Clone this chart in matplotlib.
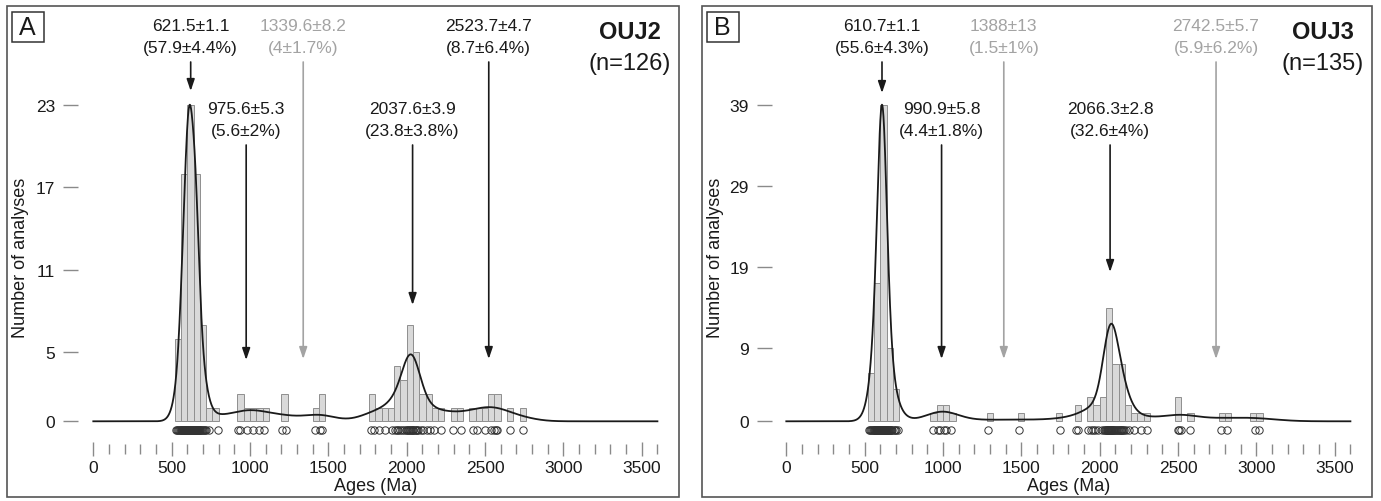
import numpy as np
import matplotlib
matplotlib.use('Agg')
import matplotlib.pyplot as plt
from matplotlib.patches import Rectangle
from matplotlib.ticker import FixedLocator
from matplotlib.transforms import blended_transform_factory

plt.rcParams['font.family'] = ['Liberation Sans', 'DejaVu Sans']

W, H = 1381, 502
BIN = 40          # histogram bin width (Ma)

OUJ2_AGES = [
    527, 534, 541, 546, 552, 557,
    561, 564, 566, 569, 571, 574, 576, 578, 581, 583, 585, 587, 590, 592, 594, 595, 597, 599,
    601, 602, 604, 606, 607, 609, 611, 612, 614, 616, 617, 619, 620, 622, 624, 625, 627, 629,
    631, 633, 635, 637, 639,
    641, 643, 645, 647, 648, 650, 652, 654, 656, 658, 660, 662, 664, 667, 670, 672, 675, 678,
    683, 688, 693, 699, 705, 711, 717, 741, 795,
    923, 936, 978, 1021, 1055, 1088,
    1206, 1227, 1415, 1449, 1458,
    1772, 1791, 1823, 1861, 1904, 1927, 1938, 1947, 1956, 1967, 1980, 1993,
    2004, 2011, 2017, 2023, 2028, 2033, 2038, 2043, 2050, 2057, 2064, 2073,
    2089, 2106, 2127, 2148, 2176, 2219,
    2293, 2348, 2425, 2446, 2501, 2538, 2554, 2567, 2579, 2659, 2744,
]
OUJ2_PEAKS = [621.5, 975.6, 1339.6, 2037.6, 2523.7]
OUJ2_PEAK_TXT = ['621.5±1.1', '975.6±5.3', '1339.6±8.2', '2037.6±3.9', '2523.7±4.7']
OUJ2_PROP_TXT = ['(57.9±4.4%)', '(5.6±2%)', '(4±1.7%)', '(23.8±3.8%)', '(8.7±6.4%)']
OUJ2_GREY = [False, False, True, False, False]

# --- OUJ3 ---
OUJ3_AGES = [
    526, 535, 542, 548, 553, 558,
    562, 565, 568, 571, 573, 576, 579, 581, 583, 586, 588, 590, 592, 594, 596, 598, 599,
    600, 601, 602, 603, 604, 604.5, 605, 606, 607, 607.5, 608, 609, 610, 610.5, 611,
    612, 612.5, 613, 614, 615, 615.5, 616, 617, 618, 619, 620, 621, 622, 623, 624,
    625, 626, 628, 629, 631, 633, 635, 637, 639,
    642, 645, 649, 653, 657, 661, 666, 671, 677,
    686, 694, 703, 713,
    938, 967, 984, 1006, 1022, 1049,
    1286, 1487, 1748,
    1851, 1862, 1926, 1942, 1955, 1973, 1991, 2013, 2027, 2036,
    2042, 2045, 2048, 2051, 2053, 2056, 2058, 2061, 2063, 2066, 2069, 2072, 2075, 2078,
    2083, 2088, 2093, 2098, 2104, 2110, 2116,
    2123, 2128, 2133, 2138, 2144, 2150, 2157,
    2169, 2186, 2216, 2262, 2301,
    2502, 2509, 2516, 2579,
    2777, 2812, 2994, 3016,
]
OUJ3_PEAKS = [610.7, 990.9, 1388, 2066.3, 2742.5]
OUJ3_PEAK_TXT = ['610.7±1.1', '990.9±5.8', '1388±13', '2066.3±2.8', '2742.5±5.7']
OUJ3_PROP_TXT = ['(55.6±4.3%)', '(4.4±1.8%)', '(1.5±1%)', '(32.6±4%)', '(5.9±6.2%)']
OUJ3_GREY = [False, False, True, False, True]

BLACK = '#1a1a1a'
GREY = '#a3a3a3'

# layout (pixels from top-left of the figure)
S = 0.1567                      # px per Ma
ZERO_PX, MAX_PX = 422.3, 105.7  # y pixel of count 0 and of the max count
AX_TOP, AX_BOT = 10, 440
ROWS = {1: (31, 53, 63), 2: (113.5, 136, 146)}   # baseline 1, baseline 2, arrow start


def fy(py):
    return 1 - py / H


def adaptive_kde(ages, grid, h0, alpha, hmax):
    a = np.asarray(ages, float)
    pilot = np.exp(-0.5 * ((a[:, None] - a[None, :]) / h0) ** 2).sum(1)
    g = np.exp(np.log(pilot).mean())
    h = np.minimum(h0 * (g / pilot) ** alpha, hmax)
    d = grid[:, None] - a[None, :]
    return (np.exp(-0.5 * (d / h) ** 2) / h).sum(1)


def draw_panel(fig, ages, peaks, peak_txt, prop_txt, grey, rows, tips,
               name, letter, left_px, zero_x_px, right_px, frame, bw):
    ax = fig.add_axes([left_px / W, fy(AX_BOT), (right_px - left_px) / W,
                       (AX_BOT - AX_TOP) / H])
    ax.patch.set_visible(False)
    edges = np.arange(0, 3600 + BIN, BIN)
    counts, _ = np.histogram(ages, bins=edges)
    cmax = counts.max()
    k = (ZERO_PX - MAX_PX) / cmax
    ax.set_xlim((left_px - zero_x_px) / S, (right_px - zero_x_px) / S)
    ax.set_ylim(-(AX_BOT - ZERO_PX) / k, (ZERO_PX - AX_TOP) / k)
    tr = blended_transform_factory(ax.transData, fig.transFigure)

    nz = counts > 0
    ax.bar(edges[:-1][nz], counts[nz], width=BIN, align='edge', color='#d9d9d9',
           edgecolor='#8f8f8f', linewidth=0.7, zorder=2)
    grid = np.arange(0, 3601, 2.0)
    dens = adaptive_kde(ages, grid, *bw)
    ax.plot(grid, dens / dens.max() * cmax, color=BLACK, lw=1.3, zorder=3)
    ax.plot(ages, np.full(len(ages), fy(430.5)), 'o', transform=tr, mfc='none',
            mec='#333333', ms=5.3, mew=0.7, clip_on=False, zorder=4)

    for pk, t1, t2, g, r, tip in zip(peaks, peak_txt, prop_txt, grey, rows, tips):
        col = GREY if g else BLACK
        b1, b2, a0 = ROWS[r]
        ax.text(pk, fy(b1), t1, transform=tr, ha='center', va='baseline',
                fontsize=12.5, color=col)
        ax.text(pk, fy(b2), t2, transform=tr, ha='center', va='baseline',
                fontsize=12.5, color=col)
        ax.annotate('', xy=(pk, fy(tip)), xycoords=tr, xytext=(pk, fy(a0)),
                    textcoords=tr,
                    arrowprops=dict(arrowstyle='-|>,head_length=0.5,head_width=0.17',
                                    mutation_scale=14, lw=1.2, color=col,
                                    shrinkA=0, shrinkB=0))

    for sp in ax.spines.values():
        sp.set_visible(False)
    ax.spines['bottom'].set_position(('outward', 6.84))
    yt = np.floor(np.linspace(0, cmax, 5))
    ax.set_yticks(yt)
    ax.set_yticklabels([str(int(v)) for v in yt])
    ax.tick_params(axis='y', direction='out', length=10.8, width=1, color='#8a8a8a',
                   pad=5.8, labelsize=12.5, labelcolor=BLACK)
    ax.xaxis.set_major_locator(FixedLocator(range(0, 3501, 500)))
    ax.xaxis.set_minor_locator(FixedLocator([m for m in range(100, 3601, 100) if m % 500]))
    ax.tick_params(axis='x', which='major', direction='inout', length=10.1, width=1,
                   color='#8a8a8a', pad=3.2, labelsize=12.5, labelcolor=BLACK)
    ax.tick_params(axis='x', which='minor', direction='inout', length=6.5, width=1,
                   color='#8a8a8a')

    ax.text(1800, fy(487), 'Ages (Ma)', transform=tr, ha='center', va='center',
            fontsize=13, color=BLACK)
    fig.text((frame[0] + 14) / W, fy(258), 'Number of analyses', rotation=90,
             ha='center', va='center', fontsize=13, color=BLACK)

    # sample name
    nx = frame[2] - 49
    fig.text(nx / W, fy(33), name, ha='center', va='center', fontsize=17,
             fontweight='bold', color=BLACK)
    fig.text(nx / W, fy(64), f'(n={len(ages)})', ha='center', va='center',
             fontsize=17, color=BLACK)

    # frame and panel letter
    fig.add_artist(Rectangle((frame[0] / W, fy(frame[3])), (frame[2] - frame[0]) / W,
                             (frame[3] - frame[1]) / H, transform=fig.transFigure,
                             fill=False, ec='#555555', lw=1.2))
    lx = frame[0] + 4.7
    fig.add_artist(Rectangle((lx / W, fy(43.3)), 32 / W, 30.6 / H,
                             transform=fig.transFigure, fill=False, ec='#333333', lw=1.1))
    fig.text((lx + 16) / W, fy(28.3), letter, ha='center', va='center', fontsize=18,
             color=BLACK)


def main():
    fig = plt.figure(figsize=(W / 100, H / 100), dpi=100)
    draw_panel(fig, OUJ2_AGES, OUJ2_PEAKS, OUJ2_PEAK_TXT, OUJ2_PROP_TXT, OUJ2_GREY,
               [1, 2, 1, 2, 1], [92, 361, 360, 306, 360],
               'OUJ2', 'A', 78, 93.3, 665, (7, 7, 679, 498), (43, 0.9, 100))
    draw_panel(fig, OUJ3_AGES, OUJ3_PEAKS, OUJ3_PEAK_TXT, OUJ3_PROP_TXT, OUJ3_GREY,
               [1, 2, 1, 2, 1], [94, 360, 360, 273, 360],
               'OUJ3', 'B', 771.7, 786.3, 1358, (702, 7, 1372, 498), (42, 0.5, 200))
    fig.savefig('out.png', dpi=100)


if __name__ == '__main__':
    main()
